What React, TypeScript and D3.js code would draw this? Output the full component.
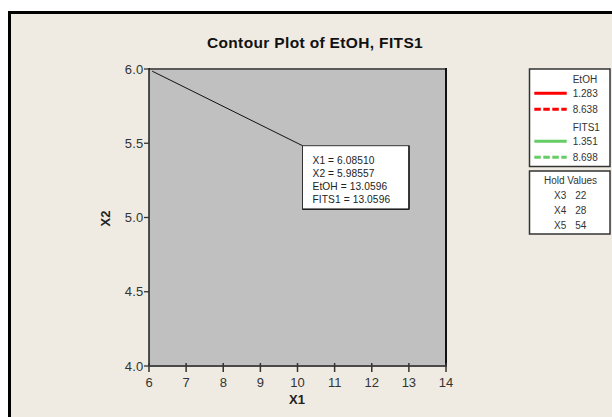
import React from "react";
import * as d3 from "d3";

const title = "Contour Plot of EtOH, FITS1";
const xTicks = [6, 7, 8, 9, 10, 11, 12, 13, 14];
const yTicks = [4.0, 4.5, 5.0, 5.5, 6.0];
const xDomain = [6, 14];
const yDomain = [4, 6];
const annotPoint = { x1: 6.0851, x2: 5.98557 };
const annotLines = ["X1 = 6.08510", "X2 = 5.98557", "EtOH = 13.0596", "FITS1 = 13.0596"];
const legendGroups = [
  { name: "EtOH", color: "#ff0000", levels: ["1.283", "8.638"] },
  { name: "FITS1", color: "#66cc66", levels: ["1.351", "8.698"] },
];
const holdVars = ["X3", "X4", "X5"];
const holdVals = ["22", "28", "54"];

const W = 612;
const H = 417;
const plot = { left: 149, right: 446, top: 69, bottom: 366 };
const bg = "#efebe2";
const sans = "'Liberation Sans', Arial, sans-serif";

export default function App() {
  const x = d3.scaleLinear().domain(xDomain).range([plot.left, plot.right]);
  const y = d3.scaleLinear().domain(yDomain).range([plot.bottom, plot.top]);
  const box = { x: 302.5, y: 145.7, w: 106.5, h: 63.6 };
  const lg = { x: 529.5, y: 69, w: 80.5, h: 97.5 };
  const hv = { x: 529.5, y: 171, w: 80.5, h: 63 };

  return (
    <svg
      width={W}
      height={H}
      style={{ position: "absolute", left: 0, top: 0 }}
      fontFamily={sans}
    >
      <rect x={0} y={0} width={W} height={H} fill="#ffffff" />
      <rect x={9.5} y={12.5} width={W + 20} height={H + 20} fill={bg} stroke="#000" strokeWidth={3} />

      <text x={315} y={47.5} textAnchor="middle" fontSize={15.5} fontWeight="bold" letterSpacing={0.35} fill="#111">
        {title}
      </text>

      {/* plot area */}
      <rect x={plot.left} y={plot.top} width={plot.right - plot.left} height={plot.bottom - plot.top} fill="#c0c0c0" />
      <line x1={plot.left} x2={plot.right} y1={plot.top} y2={plot.top} stroke="#5a5a5a" strokeWidth={2} />
      <line x1={plot.right} x2={plot.right} y1={plot.top - 1} y2={plot.bottom} stroke="#111" strokeWidth={2} />
      <line x1={plot.left} x2={plot.left} y1={plot.top - 1} y2={plot.bottom} stroke="#000" strokeWidth={1.3} />
      <line x1={plot.left} x2={plot.right + 1} y1={plot.bottom} y2={plot.bottom} stroke="#4a4a4a" strokeWidth={2} />

      {yTicks.map((t) => (
        <g key={"y" + t}>
          <line x1={plot.left - 5} x2={plot.left} y1={y(t)} y2={y(t)} stroke="#333" strokeWidth={1.3} />
          <text x={plot.left - 5.5} y={y(t) + 4.6} textAnchor="end" fontSize={13} fill="#333" letterSpacing={0.2}>
            {t.toFixed(1)}
          </text>
        </g>
      ))}
      {xTicks.map((t) => (
        <g key={"x" + t}>
          <line x1={x(t)} x2={x(t)} y1={plot.bottom - 3} y2={plot.bottom + 6} stroke="#333" strokeWidth={1.5} />
          <text x={x(t)} y={387} textAnchor="middle" fontSize={13} fill="#333">
            {t}
          </text>
        </g>
      ))}
      <text x={297} y={404} textAnchor="middle" fontSize={13} fontWeight="bold" fill="#222">X1</text>
      <text
        transform={`translate(110,218.5) rotate(-90)`}
        textAnchor="middle"
        fontSize={13}
        fontWeight="bold"
        fill="#222"
      >
        X2
      </text>

      {/* annotation */}
      <line x1={x(annotPoint.x1)} y1={y(annotPoint.x2)} x2={box.x} y2={box.y} stroke="#111" strokeWidth={1} />
      <rect x={box.x} y={box.y} width={box.w} height={box.h} fill="#fff" stroke="#333" strokeWidth={1} />
      <line x1={box.x + box.w} x2={box.x + box.w} y1={box.y} y2={box.y + box.h} stroke="#222" strokeWidth={1.6} />
      <line x1={box.x} x2={box.x + box.w} y1={box.y + box.h} y2={box.y + box.h} stroke="#222" strokeWidth={1.6} />
      {annotLines.map((s, i) => (
        <text key={s} x={312.5} y={163.5 + i * 13.3} fontSize={10.2} fill="#222" letterSpacing={0.1}>
          {s}
        </text>
      ))}

      {/* legend */}
      <rect x={lg.x} y={lg.y} width={lg.w} height={lg.h} fill="#fff" stroke="#333" strokeWidth={1.5} />
      {legendGroups.map((g, gi) => {
        const base = lg.y + 13.7 + gi * 48;
        return (
          <g key={g.name}>
            <text x={572.7} y={base} fontSize={10} fill="#333">{g.name}</text>
            {g.levels.map((lv, li) => {
              const ly = base + 10.6 + li * 16;
              return (
                <g key={lv}>
                  <line
                    x1={534.3}
                    x2={566.7}
                    y1={ly}
                    y2={ly}
                    stroke={g.color}
                    strokeWidth={3}
                    strokeDasharray={li === 1 ? "6.5,2.5" : undefined}
                  />
                  <text x={572.7} y={ly + 4} fontSize={10} fill="#333">{lv}</text>
                </g>
              );
            })}
          </g>
        );
      })}

      <rect x={hv.x} y={hv.y} width={hv.w} height={hv.h} fill="#fff" stroke="#333" strokeWidth={1.5} />
      <text x={570.5} y={184.3} textAnchor="middle" fontSize={10} fill="#333">Hold Values</text>
      {holdVars.map((v, i) => (
        <g key={v}>
          <text x={554} y={199.3 + i * 15} fontSize={10} fill="#333">{v}</text>
          <text x={575.3} y={199.3 + i * 15} fontSize={10} fill="#333">{holdVals[i]}</text>
        </g>
      ))}
    </svg>
  );
}
